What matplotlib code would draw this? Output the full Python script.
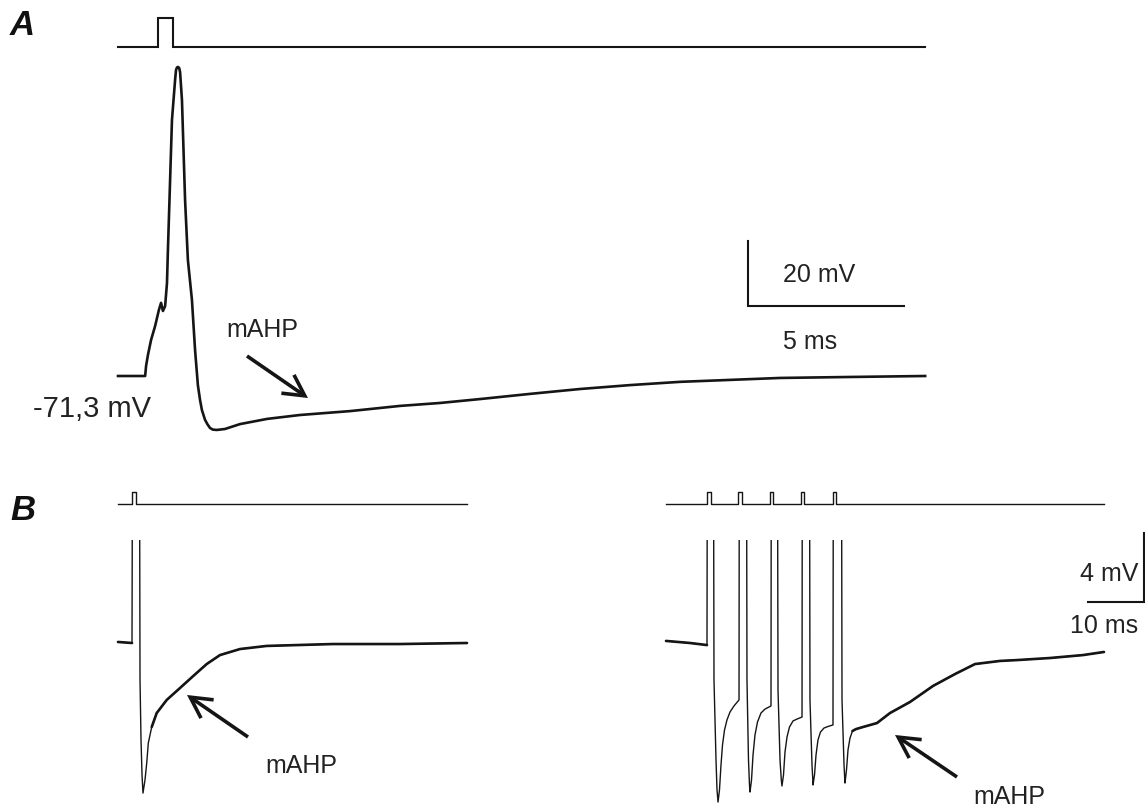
import matplotlib
matplotlib.use("Agg")
import matplotlib.pyplot as plt
import numpy as np

plt.rcParams['font.family'] = ['Liberation Sans', 'DejaVu Sans']

# ---------------- data ----------------
# Panel A: single action potential, time in ms, membrane potential in mV
a_time = [0.00, 0.87, 0.90, 0.96, 1.06, 1.19, 1.31, 1.38, 1.44, 1.51, 1.57, 1.60,
          1.67, 1.73, 1.83, 1.86, 1.89, 1.92, 1.96, 1.99, 2.05, 2.15, 2.24, 2.37,
          2.47, 2.56, 2.63, 2.69, 2.79, 2.87, 2.95, 3.04, 3.17, 3.43, 3.91, 4.78,
          5.83, 7.44, 9.04, 10.32, 11.60, 13.21, 14.81, 16.41, 18.01, 19.62,
          21.22, 23.46, 25.87]
a_volt = [-71.3, -71.3, -68.2, -64.8, -60.2, -55.9, -51.0, -48.8, -51.3, -49.8,
          -42.7, -32.5, -11.0, 7.5, 19.8, 22.9, 23.6, 23.8, 23.5, 22.2, 13.6,
          -17.2, -35.6, -47.9, -63.3, -74.1, -78.7, -81.8, -84.8, -86.2, -87.3,
          -87.8, -87.9, -87.6, -86.1, -84.5, -83.3, -82.1, -80.5, -79.6, -78.4,
          -76.8, -75.3, -74.1, -73.1, -72.5, -71.9, -71.6, -71.3]
a_stim_time = [0.0, 1.28, 1.28, 1.76, 1.76, 25.87]
a_stim_level = [0, 0, 1, 1, 0, 0]
a_rest_label = "-71,3 mV"

# Panel B left: single spike (mV relative to baseline, spike peak off-scale)
bl_time = [0.00, 2.50, 2.59, 3.84, 3.93, 4.11, 4.29, 4.46, 4.82, 5.13, 5.41,
           6.02, 6.91, 8.70, 11.07, 13.45, 15.84, 18.21, 21.79, 26.55, 38.39,
           50.36, 62.32]
bl_volt = [0.06, 0.00, 12.0, 12.0, -2.14, -5.62, -7.65, -8.70, -7.94, -6.96,
           -5.80, -4.87, -4.06, -3.30, -2.61, -1.91, -1.22, -0.70, -0.35, -0.17,
           -0.06, -0.06, 0.00]
bl_stim_time = [0.0, 2.5, 2.5, 3.15, 3.15, 62.32]
bl_stim_level = [0, 0, 1, 1, 0, 0]

# Panel B right: train of five spikes
br_time = [0.00, 4.29, 7.32, 7.38, 8.48,
           8.57, 8.93, 9.11, 9.29, 9.55, 9.82, 10.09, 10.45, 10.89, 11.43, 12.14, 13.04,
           13.09, 14.38,
           14.46, 14.73, 14.91, 15.00, 15.27, 15.54, 15.89, 16.34, 16.96, 17.68, 18.75,
           18.80, 19.91,
           20.00, 20.36, 20.59, 20.71, 20.98, 21.25, 21.61, 22.05, 22.68, 23.39, 24.29,
           24.34, 25.63,
           25.71, 26.07, 26.20, 26.25, 26.52, 26.79, 27.14, 27.59, 28.21, 28.93, 29.82,
           29.88, 31.34,
           31.43, 31.79, 31.91, 31.96, 32.23, 32.50, 32.86, 33.30, 33.93, 35.18, 37.68,
           40.00, 43.57, 47.68, 51.61, 55.18, 59.64, 62.68, 68.57, 74.46, 78.21]
br_volt = [0.12, 0.00, -0.12, 12.0, 12.0,
           -2.14, -6.78, -8.52, -9.22, -8.52, -7.07, -5.91, -5.04, -4.46, -4.00, -3.65, -3.30,
           12.0, 12.0,
           -2.14, -6.78, -8.23, -8.64, -7.94, -6.49, -5.33, -4.58, -4.06, -3.83, -3.65,
           12.0, 12.0,
           -2.72, -6.78, -7.94, -8.29, -7.65, -6.32, -5.45, -4.87, -4.52, -4.41, -4.29,
           12.0, 12.0,
           -3.30, -7.07, -7.83, -8.23, -7.65, -6.49, -5.62, -5.16, -4.93, -4.84, -4.75,
           12.0, 12.0,
           -3.30, -7.07, -7.83, -8.12, -7.36, -6.20, -5.51, -5.10, -4.99, -4.87, -4.64,
           -4.06, -3.42, -2.49, -1.80, -1.22, -1.04, -0.99, -0.87, -0.70, -0.52]
br_pulse_on = [7.38, 12.91, 18.57, 24.11, 29.77]
br_pulse_width = 0.6
br_stim_end = 78.21

scale_a = (5, 20)     # ms, mV
scale_b = (10, 4)     # ms, mV
label_text = "mAHP"

# ---------------- layout helpers ----------------
W, H = 1145, 810
fig = plt.figure(figsize=(W / 100, H / 100), dpi=100)
fig.patch.set_facecolor('white')
INK = '#151515'


def make_ax(box, origin_px, origin_val, scale):
    L, R, T, B = box
    x0, y0 = origin_px
    t0, v0 = origin_val
    sx, sy = scale
    ax = fig.add_axes([L / W, 1 - B / H, (R - L) / W, (B - T) / H])
    ax.set_xlim(t0 + (L - x0) / sx, t0 + (R - x0) / sx)
    ax.set_ylim(v0 - (B - y0) / sy, v0 - (T - y0) / sy)
    ax.axis('off')
    return ax


def ftext(x, y, s, **kw):
    kw.setdefault('fontsize', 18)
    kw.setdefault('color', '#222222')
    kw.setdefault('va', 'baseline')
    fig.text(x / W, 1 - y / H, s, **kw)


def farrow(tail, head):
    fig.add_artist(matplotlib.patches.FancyArrowPatch(
        (tail[0] / W, 1 - tail[1] / H), (head[0] / W, 1 - head[1] / H),
        transform=fig.transFigure, arrowstyle='->,head_length=0.75,head_width=0.4',
        mutation_scale=20, lw=2.6, color=INK, shrinkA=0, shrinkB=0,
        joinstyle='miter', capstyle='butt'))


# ---------------- Panel A ----------------
sxA, syA = 31.2, 3.25
axA = make_ax((100, 950, 55, 445), (118, 376), (0.0, -71.3), (sxA, syA))
axA.plot(a_time, a_volt, color=INK, lw=1.9, solid_joinstyle='round')
# scale bar
cx, cy = 20.19, -49.8
axA.plot([cx, cx, cx + scale_a[0]], [cy + scale_a[1], cy, cy], color=INK,
         lw=1.5, solid_joinstyle='miter')

axAs = make_ax((100, 950, 5, 60), (118, 47), (0.0, 0.0), (sxA, 29))
axAs.plot(a_stim_time, a_stim_level, color=INK, lw=1.5, solid_joinstyle='miter')

ftext(783, 282, f"{scale_a[1]} mV")
ftext(783, 349, f"{scale_a[0]} ms")
ftext(33, 417, a_rest_label, fontsize=21)
ftext(226, 337, label_text)
farrow((247, 356), (308, 398))
ftext(10, 35, "A", fontsize=25, fontweight='bold', fontstyle='italic', color='#111111')

# ---------------- Panel B ----------------
sxB, syB = 5.6, 17.25

def draw_trace(ax, t, v, slow_ranges):
    t = np.asarray(t)
    v = np.asarray(v)
    ax.plot(t, v, color=INK, lw=1.0, solid_joinstyle='round')
    mask = np.zeros_like(t, dtype=bool)
    for a, b in slow_ranges:
        mask |= (t >= a) & (t <= b)
    ax.plot(t, np.where(mask, v, np.nan), color=INK, lw=1.9,
            solid_capstyle='round', solid_joinstyle='round')

axBL = make_ax((110, 480, 540, 810), (118, 643), (0.0, 0.0), (sxB, syB))
draw_trace(axBL, bl_time, bl_volt, [(0, 2.5), (6.0, 100)])
axBLs = make_ax((110, 480, 480, 515), (118, 504), (0.0, 0.0), (sxB, 12))
axBLs.plot(bl_stim_time, bl_stim_level, color=INK, lw=1.0)

axBR = make_ax((655, 1145, 540, 810), (666, 643), (0.0, 0.0), (sxB, syB))
draw_trace(axBR, br_time, br_volt, [(0, 7.32), (33.3, 100)])
axBRs = make_ax((655, 1145, 480, 515), (666, 504), (0.0, 0.0), (sxB, 12))
st, sl = [0.0], [0]
for p in br_pulse_on:
    st += [p, p, p + br_pulse_width, p + br_pulse_width]
    sl += [0, 1, 1, 0]
st.append(br_stim_end)
sl.append(0)
axBRs.plot(st, sl, color=INK, lw=1.0)

# B scale bar
bx, by = 85.36, 2.38
axBR.plot([bx - scale_b[0], bx, bx], [by, by, by + scale_b[1]], color=INK,
          lw=1.5, clip_on=False, solid_joinstyle='miter')
ftext(1138, 581, f"{scale_b[1]} mV", ha='right')
ftext(1138, 633, f"{scale_b[0]} ms", ha='right')

ftext(265, 773, label_text)
farrow((248, 737), (187, 695))
ftext(973, 804, label_text)
farrow((957, 777), (895, 735))
ftext(10, 520, "B", fontsize=25, fontweight='bold', fontstyle='italic', color='#111111')

fig.savefig("out.png", dpi=100, facecolor='white')
